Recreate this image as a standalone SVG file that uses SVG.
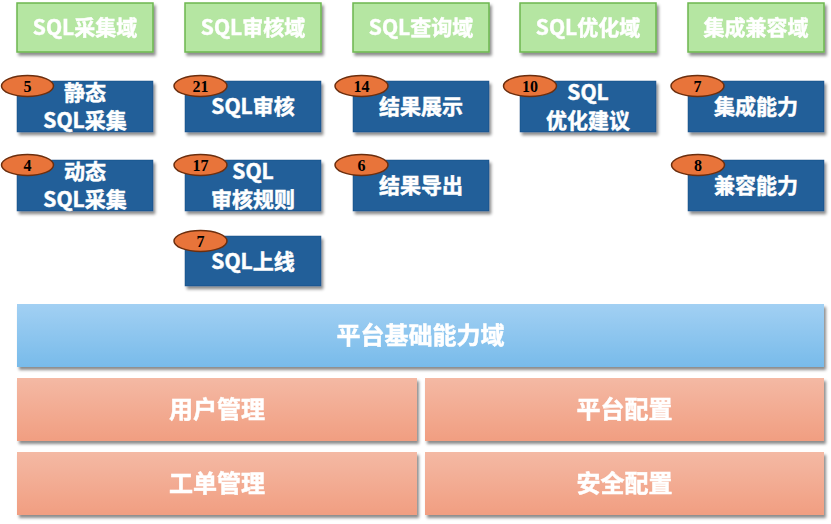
<svg xmlns="http://www.w3.org/2000/svg" width="831" height="524" viewBox="0 0 831 524">
<defs>
<filter id="sh" x="-10%" y="-20%" width="125%" height="160%">
<feDropShadow dx="2" dy="3" stdDeviation="1.6" flood-color="#000" flood-opacity="0.45"/>
</filter>
<linearGradient id="gBlue" x1="0" y1="0" x2="0" y2="1">
<stop offset="0" stop-color="#A2D0F3"/>
<stop offset="1" stop-color="#78BBEA"/>
</linearGradient>
<linearGradient id="gSalmon" x1="0" y1="0" x2="0" y2="1">
<stop offset="0" stop-color="#F4B9A4"/>
<stop offset="1" stop-color="#F19E81"/>
</linearGradient>
</defs>
<style>
text{font-family:"Noto Sans CJK SC","Liberation Sans",sans-serif;font-weight:bold;fill:#fff;stroke:#fff;stroke-width:0.5;text-anchor:middle}
.dom{fill:#B5E6A2;stroke:#6DB74F;stroke-width:1.5}
.cap{fill:#205E99;stroke:#1A4F82;stroke-width:0.5}
.t21{font-size:21px}
.t24{font-size:24px}
.ov{fill:#E8743A;stroke:#6B2E0E;stroke-width:1.5}
.num{font-family:"Liberation Serif","Times New Roman",serif;font-size:16px;fill:#000;stroke:none}
.plat{fill:url(#gBlue)}
.base{fill:url(#gSalmon)}
</style>
<g id="connectors"></g>

<g id="dom-collect" filter="url(#sh)"><rect class="dom" x="17" y="3" width="136" height="49"/><text class="t21" x="85" y="35">SQL采集域</text></g>
<g id="dom-audit" filter="url(#sh)"><rect class="dom" x="185" y="3" width="136" height="49"/><text class="t21" x="253" y="35">SQL审核域</text></g>
<g id="dom-query" filter="url(#sh)"><rect class="dom" x="353" y="3" width="136" height="49"/><text class="t21" x="421" y="35">SQL查询域</text></g>
<g id="dom-opt" filter="url(#sh)"><rect class="dom" x="520" y="3" width="136" height="49"/><text class="t21" x="588" y="35">SQL优化域</text></g>
<g id="dom-compat" filter="url(#sh)"><rect class="dom" x="688" y="3" width="136" height="49"/><text class="t21" x="756" y="35">集成兼容域</text></g>

<g id="static-collect"><rect class="cap" x="17" y="81" width="136" height="51" filter="url(#sh)"/><text class="t21" x="85" y="100">静态</text><text class="t21" x="85" y="128">SQL采集</text><ellipse class="ov" cx="27.5" cy="86" rx="26" ry="10.5"/><text class="num" x="27.5" y="91.5">5</text></g>
<g id="dynamic-collect"><rect class="cap" x="17" y="160" width="136" height="51" filter="url(#sh)"/><text class="t21" x="85" y="179">动态</text><text class="t21" x="85" y="207">SQL采集</text><ellipse class="ov" cx="27.5" cy="165" rx="26" ry="10.5"/><text class="num" x="27.5" y="170.5">4</text></g>

<g id="sql-audit"><rect class="cap" x="185" y="81" width="136" height="51" filter="url(#sh)"/><text class="t21" x="253" y="114">SQL审核</text><ellipse class="ov" cx="200.5" cy="86" rx="26.5" ry="10.5"/><text class="num" x="200.5" y="91.5">21</text></g>
<g id="audit-rules"><rect class="cap" x="185" y="160" width="136" height="51" filter="url(#sh)"/><text class="t21" x="253" y="179">SQL</text><text class="t21" x="253" y="207">审核规则</text><ellipse class="ov" cx="200.5" cy="165" rx="26.5" ry="10.5"/><text class="num" x="200.5" y="170.5">17</text></g>
<g id="sql-online"><rect class="cap" x="185" y="236" width="136" height="50" filter="url(#sh)"/><text class="t21" x="253" y="269">SQL上线</text><ellipse class="ov" cx="200.5" cy="241" rx="26.5" ry="10.5"/><text class="num" x="200.5" y="246.5">7</text></g>

<g id="result-show"><rect class="cap" x="353" y="81" width="136" height="51" filter="url(#sh)"/><text class="t21" x="421" y="114">结果展示</text><ellipse class="ov" cx="361.5" cy="86" rx="26.5" ry="10.5"/><text class="num" x="361.5" y="91.5">14</text></g>
<g id="result-export"><rect class="cap" x="353" y="160" width="136" height="51" filter="url(#sh)"/><text class="t21" x="421" y="193">结果导出</text><ellipse class="ov" cx="361.5" cy="165" rx="26.5" ry="10.5"/><text class="num" x="361.5" y="170.5">6</text></g>

<g id="opt-advice"><rect class="cap" x="520" y="81" width="136" height="51" filter="url(#sh)"/><text class="t21" x="588" y="100">SQL</text><text class="t21" x="588" y="128">优化建议</text><ellipse class="ov" cx="530" cy="86" rx="26.5" ry="10.5"/><text class="num" x="530" y="91.5">10</text></g>

<g id="integration"><rect class="cap" x="688" y="81" width="136" height="51" filter="url(#sh)"/><text class="t21" x="756" y="114">集成能力</text><ellipse class="ov" cx="697.5" cy="86" rx="26.5" ry="10.5"/><text class="num" x="697.5" y="91.5">7</text></g>
<g id="compat"><rect class="cap" x="688" y="160" width="136" height="51" filter="url(#sh)"/><text class="t21" x="756" y="193">兼容能力</text><ellipse class="ov" cx="698" cy="165" rx="26.5" ry="10.5"/><text class="num" x="698" y="170.5">8</text></g>

<g id="platform" filter="url(#sh)"><rect class="plat" x="17" y="304" width="807" height="63"/><text class="t24" x="420.5" y="344">平台基础能力域</text></g>
<g id="user-mgmt" filter="url(#sh)"><rect class="base" x="17" y="378" width="400" height="63"/><text class="t24" x="217" y="418">用户管理</text></g>
<g id="platform-config" filter="url(#sh)"><rect class="base" x="425" y="378" width="399" height="63"/><text class="t24" x="624.5" y="418">平台配置</text></g>
<g id="ticket-mgmt" filter="url(#sh)"><rect class="base" x="17" y="452" width="400" height="63"/><text class="t24" x="217" y="492">工单管理</text></g>
<g id="security-config" filter="url(#sh)"><rect class="base" x="425" y="452" width="399" height="63"/><text class="t24" x="624.5" y="492">安全配置</text></g>
</svg>
